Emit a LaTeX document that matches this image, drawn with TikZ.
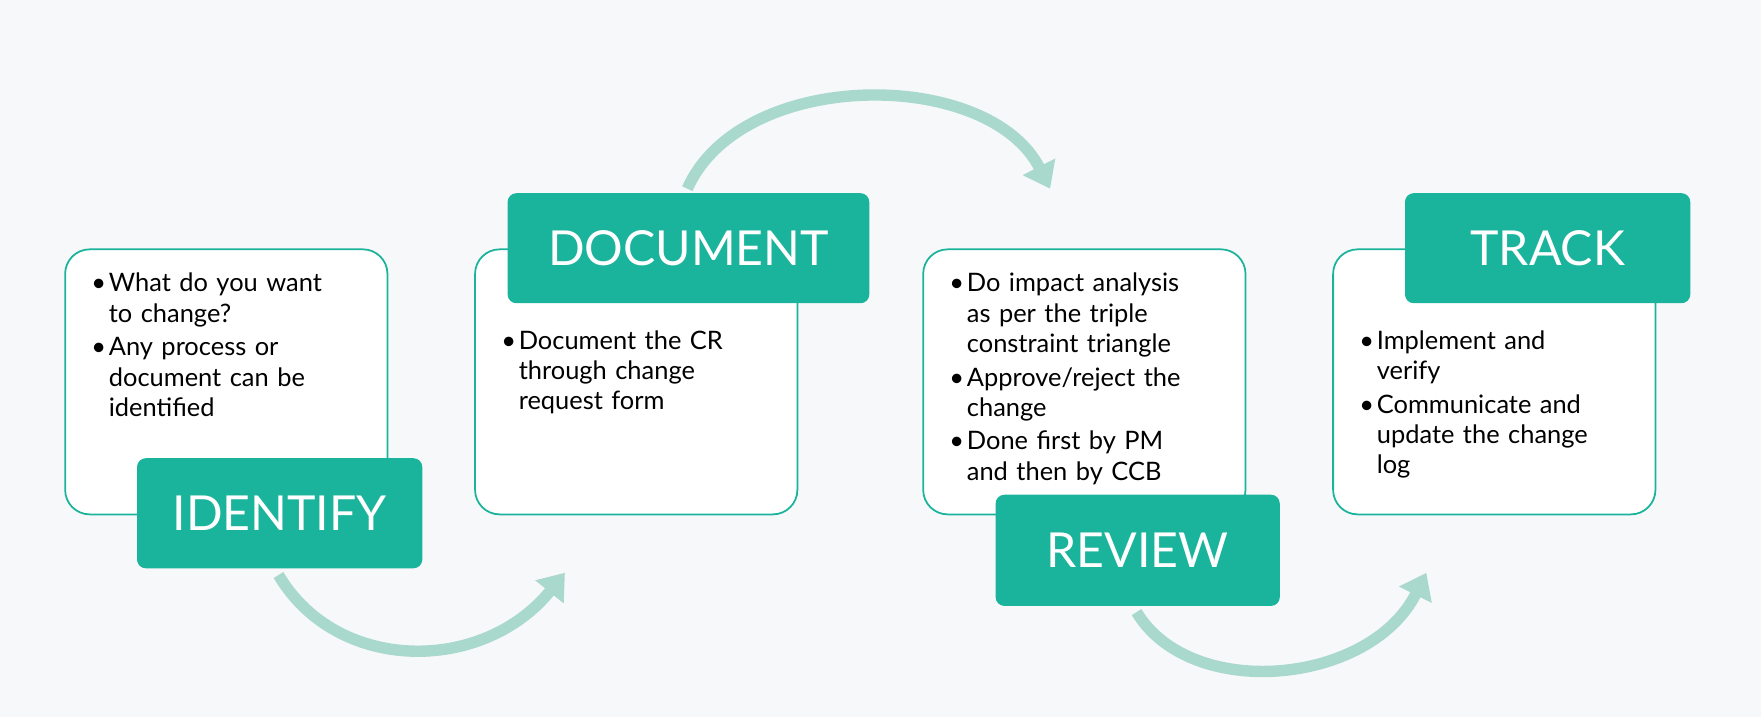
\documentclass[tikz,border=0pt]{standalone}
\usepackage{fontspec}
\setmainfont{Lato}
\usetikzlibrary{arrows.meta}
\definecolor{teal1}{HTML}{1AB39B}
\definecolor{arr}{HTML}{A8D9CC}
\definecolor{bg}{HTML}{F7F8FA}
\newcommand{\bi}[1]{\hangindent=10pt\hangafter=1\noindent\makebox[10pt][l]{\textbullet}#1\par\vspace{2pt}}
\begin{document}
\begin{tikzpicture}[x=0.0225cm,y=-0.0225cm,
 card/.style={draw=teal1,line width=1pt,fill=white,rounded corners=14pt},
 lab/.style={fill=teal1,rounded corners=5pt,text=white,font=\fontsize{27.5}{30}\selectfont},
 body/.style={anchor=north west,text width=6cm,align=left,font=\fontsize{14.5}{17.2}\selectfont,inner sep=0pt},
 flow/.style={arr,line width=6.5pt,-{Triangle[length=14pt,width=20pt]}}]
\fill[bg] (0,0) rectangle (1568,638);
\useasboundingbox (0,0) rectangle (1568,638);
% cards
\filldraw[card] (58,222) rectangle (345,458);
\filldraw[card] (423,222) rectangle (710,458);
\filldraw[card] (822,222) rectangle (1109,458);
\filldraw[card] (1187,222) rectangle (1474,458);
% texts
\node[body] (t1) at (81,243) {\bi{What do you want\newline to change?}\bi{Any process or\newline document can be\newline identified}};
\node[body] (t2) at (446,294) {\bi{Document the CR\newline through change\newline request form}};
\node[body] (t3) at (845,243) {\bi{Do impact analysis\newline as per the triple\newline constraint triangle}\bi{Approve/reject the\newline change}\bi{Done first by PM\newline and then by CCB}};
\node[body] (t4) at (1210,294) {\bi{Implement and\newline verify}\bi{Communicate and\newline update the change\newline log}};
% labels
\node[lab,minimum width=254*0.0225cm,minimum height=98*0.0225cm] (id) at (249,457) {IDENTIFY};
\node[lab,minimum width=322*0.0225cm,minimum height=98*0.0225cm] (doc) at (613,221) {DOCUMENT};
\node[lab,minimum width=253*0.0225cm,minimum height=99*0.0225cm] (rev) at (1013,490) {REVIEW};
\node[lab,minimum width=254*0.0225cm,minimum height=98*0.0225cm] (trk) at (1378,221) {TRACK};
% arrows
\coordinate (a1s) at (248,512); \coordinate (a1e) at (503,510);
\coordinate (a2s) at (612,168); \coordinate (a2e) at (935,168);
\coordinate (a3s) at (1012,545); \coordinate (a3e) at (1270,510);
\draw[flow] (a1s) .. controls (300,600) and (430,600) .. (a1e);
\draw[flow] (a2s) .. controls (660,60) and (880,60) .. (a2e);
\draw[flow] (a3s) .. controls (1060,625) and (1220,610) .. (a3e);
\end{tikzpicture}
\end{document}
